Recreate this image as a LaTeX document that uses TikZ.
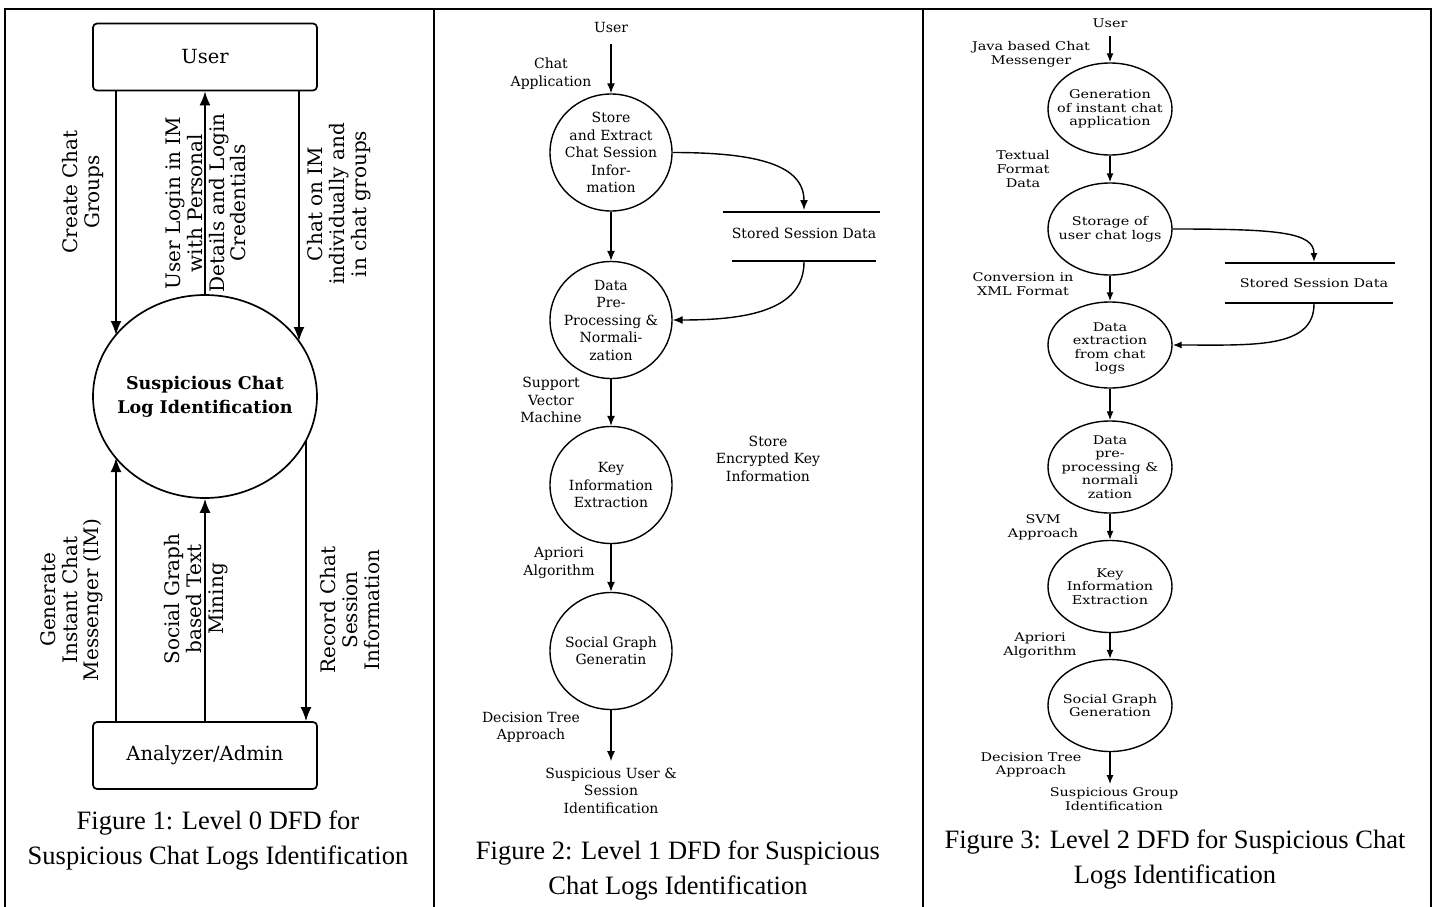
\documentclass[tikz,border=0pt]{standalone}
\usepackage{fontspec}
\setmainfont{Liberation Serif}
\newfontfamily\dfd{DejaVu Serif}
\newfontfamily\dfdw{DejaVu Serif}[FakeStretch=1.2]
\usetikzlibrary{arrows.meta,shapes.geometric}
\begin{document}
\begin{tikzpicture}[x=1pt,y=-1pt,
  tableline/.style={line width=2pt},
  extbox/.style={draw, line width=1.7pt, rounded corners=4pt, minimum width=224pt, minimum height=67pt, inner sep=0pt, font=\dfd\fontsize{19.5}{22}\selectfont},
  procA/.style={draw, ellipse, line width=1.7pt, minimum width=224pt, minimum height=203pt, inner sep=0pt},
  boldtxt/.style={align=center, font=\dfd\bfseries\fontsize{17.5}{24}\selectfont},
  lblA/.style={rotate=90, align=center, font=\dfd\fontsize{20}{21.7}\selectfont},
  arrA/.style={line width=1.7pt, -{Latex[length=14pt,width=11pt]}},
  procB/.style={draw, ellipse, line width=1.4pt, minimum width=122pt, minimum height=117pt, inner sep=0pt},
  txtB/.style={align=center, font=\dfd\fontsize{14}{17.5}\selectfont},
  arrB/.style={line width=1.4pt, -{Latex[length=10pt,width=8pt]}},
  procC/.style={draw, ellipse, line width=1.4pt, minimum width=124pt, minimum height=92pt, inner sep=0pt},
  txtC/.style={align=center, font=\dfdw\fontsize{12}{13.6}\selectfont},
  arrC/.style={line width=1.4pt, -{Latex[length=9pt,width=7pt]}},
  storeline/.style={line width=1.4pt},
  figcap/.style={align=center, font=\fontsize{26.5}{35}\selectfont}
]
\useasboundingbox (0,0) rectangle (1433,907);
% table frame
\draw[tableline] (5,907) -- (5,9) -- (1431,9) -- (1431,907);
\draw[tableline] (434,9) -- (434,907);
\draw[tableline] (923,9) -- (923,907);

% ---------------- Figure 1 ----------------
\node[extbox] (user) at (205,57) {User};
\node[procA] (c1) at (205,396.5) {};
\node[boldtxt] (c1t) at (c1) {Suspicious Chat\\Log Identification};
\node[extbox] (admin) at (205,755.5) {Analyzer/Admin};

\coordinate (xl) at (116,0);
\coordinate (xr) at (299,0);
\coordinate (xrb) at (306,0);
\coordinate (e1) at (116,335);
\coordinate (e2) at (299,341);
\coordinate (e3) at (116,458);
\coordinate (e4) at (306,440);
\draw[arrA] (xl |- user.south) -- (e1);
\draw[arrA] (c1.north) -- (user.south);
\draw[arrA] (xr |- user.south) -- (e2);
\draw[arrA] (xl |- admin.north) -- (e3);
\draw[arrA] (admin.north -| c1.south) -- (c1.south);
\draw[arrA] (e4) -- (xrb |- admin.north);

\node[lblA] (l1) at (83,192) {Create Chat\\Groups};
\node[lblA] (l2) at (206,203) {User Login in IM\\with Personal\\Details and Login\\Credentials};
\node[lblA] (l3) at (339,204) {Chat on IM\\individually and\\in chat groups};
\node[lblA] (l4) at (72,600) {Generate\\Instant Chat\\Messenger (IM)};
\node[lblA] (l5) at (196,599) {Social Graph\\based Text\\Mining};
\node[lblA] (l6) at (350,610) {Record Chat\\Session\\Information};

\node[figcap] (cap1) at (218,840.5) {Figure 1: Level 0 DFD for\\Suspicious Chat Logs Identification};

% ---------------- Figure 2 ----------------
\node[txtB] (u2) at (611,27) {User};
\node[txtB] (ca2) at (551,73.5) {Chat\\Application};
\node[procB] (p1) at (611,152.5) {};
\node[txtB] at (p1) {Store\\and Extract\\Chat Session\\Infor-\\mation};
\node[procB] (p2) at (611,320) {};
\node[txtB] at (p2) {Data\\Pre-\\Processing \&\\Normali-\\zation};
\node[procB] (p3) at (611,485) {};
\node[txtB] at (p3) {Key\\Information\\Extraction};
\node[procB] (p4) at (611,651) {};
\node[txtB] at (p4) {Social Graph\\Generatin};
\node[txtB] (s2) at (804,233) {Stored Session Data};
\draw[storeline] (723,212) -- (880,212);
\draw[storeline] (732,261) -- (876,261);
\coordinate (s2top) at (804,210);
\coordinate (s2bot) at (804,262);
\node[txtB] (svm2) at (551,400) {Support\\Vector\\Machine};
\node[txtB] (enc2) at (768,458.5) {Store\\Encrypted Key\\Information};
\node[txtB] (ap2) at (559,563) {Apriori\\Algorithm};
\node[txtB] (dt2) at (531,727.5) {Decision Tree\\Approach};
\node[txtB] (out2) at (611,790.5) {Suspicious User \&\\Session\\Identification};

\draw[arrB, shorten <=8pt] (u2) -- (p1.north);
\draw[arrB] (p1.south) -- (p2.north);
\draw[arrB] (p2.south) -- (p3.north);
\draw[arrB] (p3.south) -- (p4.north);
\draw[arrB, shorten >=3pt] (p4.south) -- (out2.north);
\draw[arrB] (p1.east) .. controls +(85,0) and +(0,-45) .. (s2top);
\draw[arrB] (s2bot) .. controls +(0,50) and +(70,0) .. (p2.east);

\node[figcap] (cap2) at (678,870.5) {Figure 2: Level 1 DFD for Suspicious\\Chat Logs Identification};

% ---------------- Figure 3 ----------------
\node[txtC] (u3) at (1110,23) {User};
\node[txtC] (jv3) at (1031,54) {Java based Chat\\Messenger};
\node[procC] (q1) at (1110,109) {};
\node[txtC] at (q1) {Generation\\of instant chat\\application};
\node[procC] (q2) at (1110,229) {};
\node[txtC] at (q2) {Storage of\\user chat logs};
\node[procC, minimum height=86pt] (q3) at (1110,345) {};
\node[txtC] at (1110,348.5) {Data\\extraction\\from chat\\logs};
\node[procC] (q4) at (1110,467) {};
\node[txtC] at (q4) {Data\\pre-\\processing \&\\normali\\zation};
\node[procC] (q5) at (1110,586.5) {};
\node[txtC] at (q5) {Key\\Information\\Extraction};
\node[procC] (q6) at (1110,705.5) {};
\node[txtC] at (q6) {Social Graph\\Generation};
\node[txtC] (s3) at (1314,283) {Stored Session Data};
\draw[storeline] (1225,263) -- (1395,263);
\draw[storeline] (1225,303) -- (1393,303);
\coordinate (s3top) at (1314,262);
\coordinate (s3bot) at (1314,304);
\node[txtC] (tf3) at (1023,169) {Textual\\Format\\Data};
\node[txtC] (xml3) at (1023,284) {Conversion in\\XML Format};
\node[txtC] (svm3) at (1043,527) {SVM\\Approach};
\node[txtC] (ap3) at (1040,645.5) {Apriori\\Algorithm};
\node[txtC] (dt3) at (1031,765) {Decision Tree\\Approach};
\node[txtC] (out3) at (1114,799) {Suspicious Group\\Identification};

\draw[arrC, shorten <=5pt] (u3) -- (q1.north);
\draw[arrC] (q1.south) -- (q2.north);
\draw[arrC] (q2.south) -- (q3.north);
\draw[arrC] (q3.south) -- (q4.north);
\draw[arrC] (q4.south) -- (q5.north);
\draw[arrC] (q5.south) -- (q6.north);
\draw[arrC] (q6.south) -- (q6.south |- out3.north);
\draw[arrC] (q2.east) .. controls +(105,0) and +(0,-30) .. (s3top);
\draw[arrC] (s3bot) .. controls +(0,45) and +(80,0) .. (q3.east);

\node[figcap] (cap3) at (1175,859.5) {Figure 3: Level 2 DFD for Suspicious Chat\\Logs Identification};
\end{tikzpicture}
\end{document}
